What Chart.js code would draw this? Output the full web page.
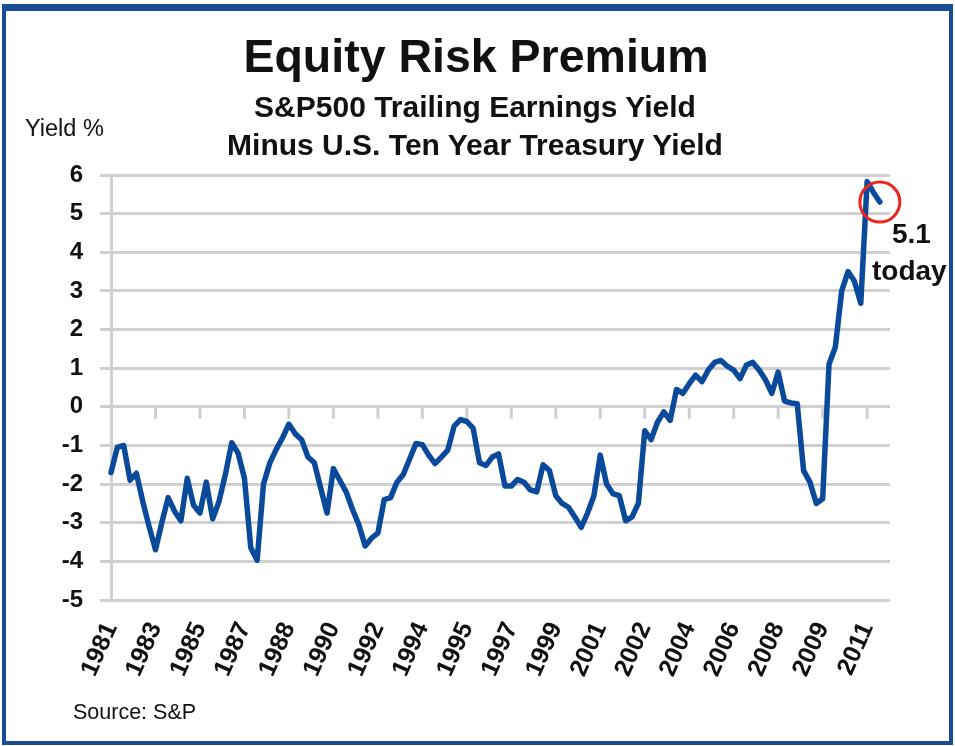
<!DOCTYPE html>
<html><head><meta charset="utf-8">
<script src="https://cdn.jsdelivr.net/npm/chart.js@4.4.1/dist/chart.umd.min.js"></script>
<style>
html,body{margin:0;padding:0;background:#fff;}
#wrap{position:relative;width:955px;height:746px;overflow:hidden;font-family:"Liberation Sans",Arial,sans-serif;color:#111;}
#frame{position:absolute;left:2px;top:4px;width:951px;height:741px;box-sizing:border-box;border:4px solid #164d96;border-top-width:7px;}
canvas{position:absolute;left:0;top:0;}
.t{position:absolute;white-space:nowrap;line-height:1;}
</style></head><body>
<div id="wrap">
<canvas id="c" width="955" height="746"></canvas>
<div id="frame"></div>
<div class="t" style="left:0;width:952px;text-align:center;top:33px;font-size:46.5px;font-weight:bold;">Equity Risk Premium</div>
<div class="t" style="left:0;width:950px;text-align:center;top:92px;font-size:30px;font-weight:bold;">S&amp;P500 Trailing Earnings Yield</div>
<div class="t" style="left:0;width:950px;text-align:center;top:130px;font-size:30px;font-weight:bold;">Minus U.S. Ten Year Treasury Yield</div>
<div class="t" style="left:25px;top:117px;font-size:23.5px;">Yield %</div>
<div class="t" style="left:73px;top:702px;font-size:21.5px;">Source: S&amp;P</div>
<div class="t" style="left:892px;top:220px;font-size:28px;font-weight:bold;">5.1</div>
<div class="t" style="left:872px;top:257px;font-size:28px;font-weight:bold;">today</div>
</div>
<script>
// Quarterly readings (from late 1981), one label every 7 quarters
const tickLabels = ['1981','1983','1985','1987','1988','1990','1992','1994','1995','1997','1999','2001','2002','2004','2006','2008','2009','2011'];
const premium = [
 -1.7,-1.05,-1.0,-1.9,-1.72,-2.45,-3.1,-3.7,-3.0,-2.35,
 -2.7,-2.95,-1.85,-2.55,-2.75,-1.95,-2.9,-2.45,-1.75,-0.93,
 -1.2,-1.85,-3.65,-3.97,-2.0,-1.45,-1.1,-0.8,-0.45,-0.7,
 -0.85,-1.3,-1.45,-2.1,-2.75,-1.6,-1.9,-2.2,-2.65,-3.05,
 -3.6,-3.4,-3.27,-2.4,-2.35,-1.95,-1.75,-1.35,-0.95,-0.98,
 -1.25,-1.47,-1.3,-1.12,-0.5,-0.33,-0.38,-0.56,-1.45,-1.52,
 -1.3,-1.22,-2.05,-2.05,-1.88,-1.95,-2.15,-2.2,-1.5,-1.65,
 -2.3,-2.5,-2.6,-2.85,-3.12,-2.75,-2.3,-1.25,-2.0,-2.25,
 -2.3,-2.95,-2.85,-2.5,-0.62,-0.85,-0.4,-0.13,-0.35,0.45,
 0.35,0.6,0.82,0.65,0.95,1.15,1.2,1.05,0.95,0.73,
 1.08,1.15,0.95,0.7,0.35,0.9,0.15,0.1,0.08,-1.65,
 -1.95,-2.5,-2.38,1.1,1.55,3.0,3.5,3.25,2.68,5.83,
 5.55,5.3
];
const labelEvery = 7;

const points = premium.map((v, i) => ({x: i, y: v}));
const lastIdx = premium.length - 1;
const gridColor = '#d0d0d0';
const fontFam = '"Liberation Sans", Arial, sans-serif';

const zeroTicks = {
  id: 'zeroTicks',
  beforeDatasetsDraw(chart) {
    const xs = chart.scales.x, ys = chart.scales.y, ctx = chart.ctx;
    const y0 = ys.getPixelForValue(0);
    ctx.save();
    ctx.strokeStyle = gridColor;
    ctx.lineWidth = 3;
    for (let k = 1; k < tickLabels.length; k++) {
      const x = xs.getPixelForValue(k * labelEvery);
      ctx.beginPath();
      ctx.moveTo(x, y0);
      ctx.lineTo(x, y0 + 12);
      ctx.stroke();
    }
    ctx.restore();
  }
};

new Chart(document.getElementById('c'), {
  type: 'line',
  data: {
    datasets: [{
      data: points,
      clip: false,
      borderColor: '#0b4a9b',
      borderWidth: 5.5,
      borderJoinStyle: 'round',
      borderCapStyle: 'round',
      tension: 0,
      fill: false,
      pointRadius: premium.map((v, i) => i === lastIdx ? 20 : 0),
      pointHoverRadius: premium.map((v, i) => i === lastIdx ? 20 : 0),
      pointBorderColor: '#e8261e',
      pointBorderWidth: 3,
      pointBackgroundColor: 'rgba(0,0,0,0)'
    }]
  },
  options: {
    responsive: false,
    animation: false,
    events: [],
    layout: { padding: { top: 175, left: 0, right: 65, bottom: 0 } },
    plugins: { legend: { display: false }, tooltip: { enabled: false } },
    scales: {
      x: {
        type: 'linear',
        min: 0,
        max: 122.6,
        grid: { display: false },
        border: { display: false },
        afterFit(s) { s.height = 146; },
        ticks: {
          stepSize: labelEvery,
          includeBounds: false,
          autoSkip: false,
          minRotation: 66,
          maxRotation: 66,
          padding: 10,
          color: '#111',
          font: { family: fontFam, size: 25, weight: 'bold' },
          callback(v) {
            const k = v / labelEvery;
            return Number.isInteger(k) && k < tickLabels.length ? tickLabels[k] : null;
          }
        }
      },
      y: {
        min: -5,
        max: 6,
        grid: { color: gridColor, lineWidth: 3, drawTicks: true, tickLength: 11 },
        border: { display: true, color: gridColor, width: 3 },
        afterFit(s) { s.width = 111; },
        ticks: {
          stepSize: 1,
          padding: 17,
          color: '#111',
          font: { family: fontFam, size: 24, weight: 'bold' }
        }
      }
    }
  },
  plugins: [zeroTicks]
});
</script>
</body></html>
